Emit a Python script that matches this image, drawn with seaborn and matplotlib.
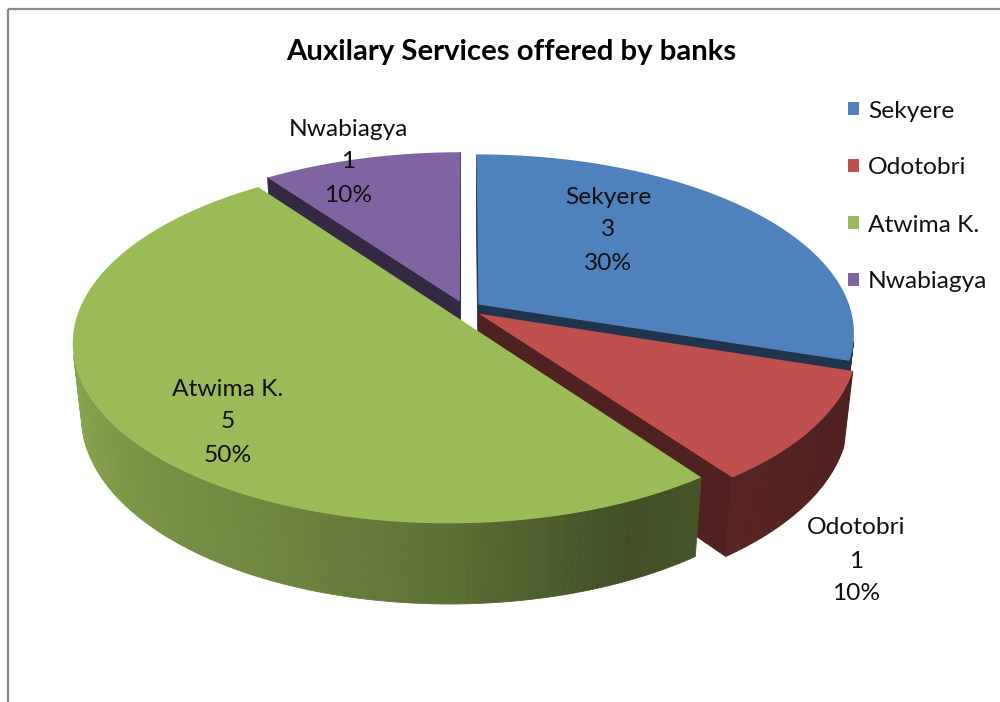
import numpy as np
import matplotlib
matplotlib.use("Agg")
import matplotlib.pyplot as plt
import seaborn as sns
import matplotlib.colors as mcolors
from matplotlib.transforms import Transform
from matplotlib.path import Path
from matplotlib.patches import Polygon, Patch
from matplotlib.font_manager import FontProperties

# ---------------- data ----------------
categories = ["Sekyere", "Odotobri", "Atwima K.", "Nwabiagya"]
counts = [3, 1, 5, 1]
chart_title = "Auxilary Services offered by banks"

# ---------------- style / layout ----------------
top_colors = ["#4F81BD", "#C0504D", "#9BBB59", "#8064A2"]
label_centres_px = [(608, 230), (856, 561), (228, 422), (348, 162)]  # (x, y-down) label block centres

sns.set_theme(style="white")
FAMILY = ["Lato", "DejaVu Sans"]
plt.rcParams["font.family"] = FAMILY

W, H, DPI = 1000, 702, 100
fig = plt.figure(figsize=(W / DPI, H / DPI), dpi=DPI)
fig.patch.set_facecolor("white")
ax = fig.add_axes([0, 0, 1, 1])

# 3-D perspective parameters for the pie
CX, CY = 465.0, 309.0          # projected pie centre (px, y down)
SX, SY = 372.0, 350.0          # pixel scales
ALPHA = np.radians(30.0)       # elevation of the view
DIST = 5.5                     # camera distance (in radii)
THICK = 0.245                  # pie thickness (in radii)
EXPLODE = 0.045


def project(u, v, h=0.0):
    u = np.asarray(u, float)
    v = np.asarray(v, float)
    z = DIST + v * np.cos(ALPHA) - h * np.sin(ALPHA)
    X = DIST * u / z
    Y = DIST * (v * np.sin(ALPHA) + h * np.cos(ALPHA)) / z
    return CX + SX * X, (H - CY) + SY * Y


class PieProjection(Transform):
    input_dims = 2
    output_dims = 2
    is_separable = False
    has_inverse = False

    def __init__(self, h=0.0):
        super().__init__()
        self.h = h

    def transform_non_affine(self, values):
        values = np.asarray(values, float).reshape(-1, 2)
        x, y = project(values[:, 0], values[:, 1], self.h)
        return np.column_stack([x, y])

    def transform_path_non_affine(self, path):
        ts = np.linspace(0, 1, 48)
        pts = [seg(ts) for seg, code in path.iter_bezier()]
        verts = np.vstack(pts)
        return Path(self.transform_non_affine(verts))


wedges, _ = ax.pie(counts, explode=[EXPLODE] * len(counts), colors=top_colors,
                   startangle=90, counterclock=False, radius=1.0, center=(0, 0),
                   wedgeprops=dict(linewidth=0))
ax.set_aspect("auto")
ax.set_xlim(0, W)
ax.set_ylim(0, H)
ax.set_axis_off()

# ---- side faces (outer rim with shading + cut faces) ----
shade_theta = [180, 192, 225, 245, 270, 285, 295, 306, 330, 360]
shade_fac = [0.90, 0.90, 0.78, 0.72, 0.60, 0.48, 0.42, 0.45, 0.41, 0.41]
CUT_FAC = 0.41
cam_v = -DIST * np.cos(ALPHA)


def shaded(color, f):
    r, g, b = mcolors.to_rgb(color)
    return (r * f, g * f, b * f)


faces = []
for w, col in zip(wedges, top_colors):
    cx0, cy0 = w.center
    t1, t2 = w.theta1, w.theta2
    n = max(int(round(t2 - t1)), 2)
    th = np.radians(np.linspace(t1, t2, n + 1))
    for a, b in zip(th[:-1], th[1:]):
        m = 0.5 * (a + b)
        if -cx0 * np.cos(m) + (cam_v - cy0) * np.sin(m) - 1.0 <= 0:
            continue
        uu = cx0 + np.cos([a, b])
        vv = cy0 + np.sin([a, b])
        xt, yt = project(uu, vv, 0.0)
        xb, yb = project(uu, vv, -THICK)
        verts = [(xt[0], yt[0]), (xt[1], yt[1]), (xb[1], yb[1]), (xb[0], yb[0])]
        f = np.interp(np.degrees(m) % 360, shade_theta, shade_fac)
        faces.append((cy0 + np.sin(m), verts, shaded(col, f)))
    for t, nang in ((t1, t1 - 90), (t2, t2 + 90)):
        tr, nr = np.radians(t), np.radians(nang)
        if -cx0 * np.cos(nr) + (cam_v - cy0) * np.sin(nr) <= 0:
            continue
        uu = np.array([cx0, cx0 + np.cos(tr)])
        vv = np.array([cy0, cy0 + np.sin(tr)])
        xt, yt = project(uu, vv, 0.0)
        xb, yb = project(uu, vv, -THICK)
        verts = [(xt[0], yt[0]), (xt[1], yt[1]), (xb[1], yb[1]), (xb[0], yb[0])]
        faces.append((cy0 + 0.5 * np.sin(tr), verts, shaded(col, CUT_FAC)))

faces.sort(key=lambda f: -f[0])
for _, verts, c in faces:
    ax.add_patch(Polygon(verts, closed=True, facecolor=c, edgecolor=c,
                         linewidth=0.6, zorder=2))

for w in wedges:
    w.set_transform(PieProjection(0.0) + ax.transData)
    w.set_zorder(5)

# ---- text sizing ----
renderer = fig.canvas.get_renderer()


def metrics(s, size, weight="normal"):
    fp = FontProperties(family=FAMILY, size=size, weight=weight)
    return renderer.get_text_width_height_descent(s, fp, ismath=False)


title_size = 20 * 452 / metrics(chart_title, 20, "bold")[0]
label_size = 20 * 119 / metrics("Nwabiagya", 20)[0]
lw_, lh_, ld_ = metrics("lp", label_size)
line_sp = (33.0 - ld_) / (lh_ - ld_)
fs_px = label_size * DPI / 72.0

# ---- title ----
ax.text(511, H - 60, chart_title, ha="center", va="baseline",
        fontsize=title_size, fontweight="bold", color="black", zorder=10)

# ---- data labels ----
total = sum(counts)
for cat, cnt, (lx, ly) in zip(categories, counts, label_centres_px):
    pct = round(100 * cnt / total)
    ax.text(lx, H - ly, f"{cat}\n{cnt}\n{pct}%", ha="center", va="center",
            multialignment="center", linespacing=line_sp, fontsize=label_size,
            color="#111111", zorder=10)

# ---- legend ----
handles = [Patch(facecolor=c, edgecolor="none", label=cat)
           for c, cat in zip(top_colors, categories)]
leg = ax.legend(handles=handles, loc="upper left", frameon=False,
                bbox_to_anchor=(848 / W, 1 - (111 - lh_ / 2) / H),
                bbox_transform=fig.transFigure, borderpad=0, borderaxespad=0,
                fontsize=label_size, handlelength=11 / fs_px, handleheight=11 / fs_px,
                handletextpad=9 / fs_px, labelspacing=(57 - lh_) / fs_px)
for t in leg.get_texts():
    t.set_color("#111111")

# ---- chart-area border ----
ax.plot([7.5, 7.5], [0, H - 8.5], color="#8a8a8a", lw=1.6, clip_on=False,
        solid_capstyle="butt", zorder=1)
ax.plot([7.5, W], [H - 8.5, H - 8.5], color="#8a8a8a", lw=1.6, clip_on=False,
        solid_capstyle="butt", zorder=1)

fig.savefig("out.png", dpi=DPI, facecolor="white")
